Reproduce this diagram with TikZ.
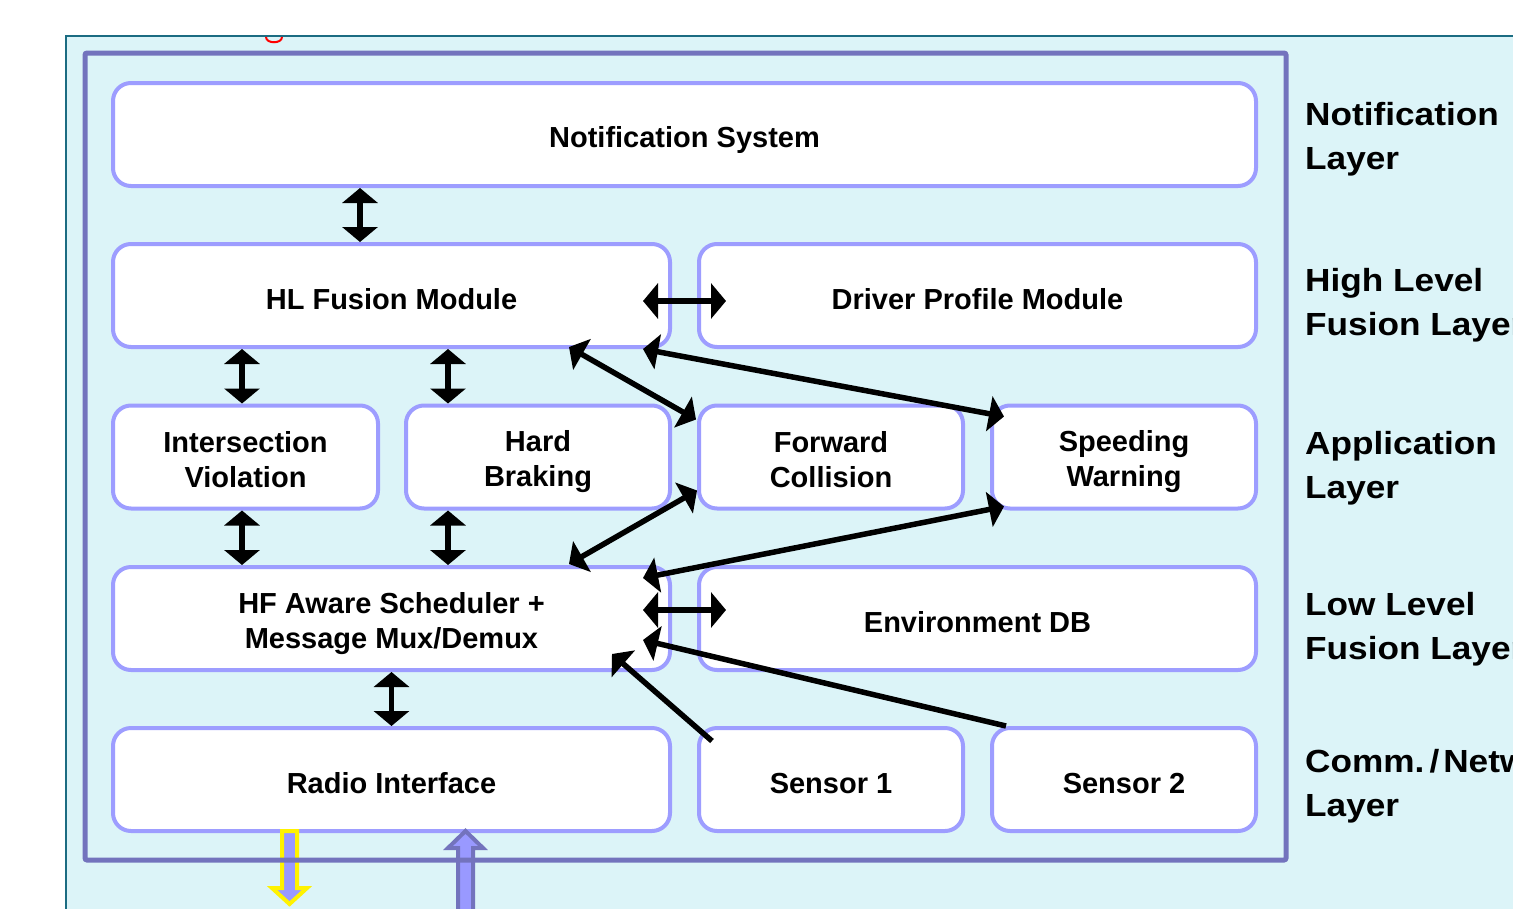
\documentclass[tikz,border=0pt]{standalone}
\usepackage{fontspec}
\setmainfont{Liberation Sans}
\newfontfamily\labfont[FakeStretch=1.1]{Liberation Sans}
\usetikzlibrary{arrows.meta,calc}
\definecolor{bgc}{HTML}{DCF4F8}
\definecolor{tealc}{HTML}{1B6C82}
\definecolor{innerc}{HTML}{7373BD}
\definecolor{boxc}{HTML}{9D9DFF}
\definecolor{arrc}{HTML}{9999FF}
\begin{document}
\begin{tikzpicture}[x=1pt,y=-1pt,
  box/.style={draw=boxc, line width=4pt, fill=white, rounded corners=18pt, inner sep=0pt, align=center,
    font=\bfseries\fontsize{29}{35}\selectfont, minimum height=103pt,
    execute at begin node={\rule{0pt}{33pt}},
    execute at end node={\rule[-6pt]{0pt}{0pt}}},
  two/.style={execute at begin node={\rule{0pt}{66pt}}},
  wide/.style={minimum width=557pt},
  narrow/.style={minimum width=264pt},
  dbl/.style={line width=5.5pt, {Triangle[length=15pt,width=35pt]}-{Triangle[length=15pt,width=35pt]}},
  sgl/.style={line width=5.5pt, -{Triangle[length=15pt,width=35pt]}},
  lab/.style={anchor=base west, align=left, inner sep=0pt,
    font=\labfont\bfseries\fontsize{32}{44}\selectfont}]
\useasboundingbox (0,0) rectangle (1513,908);
\clip (0,0) rectangle (1513,908);
\fill[white] (0,0) rectangle (1513,908);
% outer frame
\draw[tealc, line width=2.5pt, fill=bgc] (66,36) rectangle (1540,940);
% red fragment
\draw[red, line width=2pt] (266,37) .. controls (266,44) and (282,44) .. (282,37);
% boxes
\node[box, minimum width=1143pt] (notif) at (684.5,134.5) {Notification System};
\node[box, wide] (hl) at (391.5,295.5) {HL Fusion Module};
\node[box, wide] (drv) at (977.5,295.5) {Driver Profile Module};
\node[box, two, narrow, minimum width=265pt] (inter) at (245.5,457) {Intersection\\Violation};
\node[box, two, narrow] (hard) at (538,457) {Hard\\Braking};
\node[box, two, narrow] (fwd) at (831,457) {Forward\\Collision};
\node[box, two, narrow] (speed) at (1124,457) {Speeding\\Warning};
\node[box, two, wide] (hf) at (391.5,618.5) {HF Aware Scheduler +\\Message Mux/Demux};
\node[box, wide] (env) at (977.5,618.5) {Environment DB};
\node[box, wide] (radio) at (391.5,779.5) {Radio Interface};
\node[box, narrow] (s1) at (831,779.5) {Sensor 1};
\node[box, narrow] (s2) at (1124,779.5) {Sensor 2};
% connectors
\draw[dbl] ([shift={(249,0)}]notif.south west) -- ([shift={(249,0)}]hl.north west);
\draw[dbl] ([shift={(131,0)}]hl.south west) -- ([shift={(131,0)}]inter.north west);
\draw[dbl] ([shift={(337,0)}]hl.south west) -- ([shift={(44,0)}]hard.north west);
\draw[dbl] ([shift={(131,0)}]inter.south west) -- ([shift={(131,0)}]hf.north west);
\draw[dbl] ([shift={(44,0)}]hard.south west) -- ([shift={(337,0)}]hf.north west);
\draw[dbl] (hf.south) -- (radio.north);
\draw[dbl] ([shift={(-29,5.5)}]hl.east) -- ([shift={(29,5.5)}]drv.west);
\draw[dbl] ([shift={(-103,-2)}]hl.south east) -- ([shift={(-1,16)}]fwd.north west);
\draw[dbl] ([shift={(-29,0)}]hl.south east) -- ([shift={(14,13)}]speed.north west);
\draw[dbl] ([shift={(0,-20)}]fwd.south west) -- ([shift={(-103,-1)}]hf.north east);
\draw[dbl] ([shift={(14,-4)}]speed.south west) -- ([shift={(-29,13)}]hf.north east);
\draw[dbl] ([shift={(-29,-8.5)}]hf.east) -- ([shift={(29,-8.5)}]env.west);
\draw[sgl] ([shift={(16,0)}]s2.north west) -- ([shift={(-29,21.5)}]hf.east);
\draw[sgl] ([shift={(15,15)}]s1.north west) -- ([shift={(-60,-18)}]hf.south east);
% radio in/out arrows
\draw[yellow, line width=4pt, fill=arrc, line join=miter]
  (282,831) -- (297,831) -- (297,888) -- (307,888) -- (289.5,904) -- (272,888) -- (282,888) -- cycle;
\draw[innerc, line width=4pt, fill=arrc, line join=miter]
  (465.5,831) -- (483,848) -- (473,848) -- (473,915) -- (458,915) -- (458,848) -- (448,848) -- cycle;
% inner frame
\draw[innerc, line width=5pt, rounded corners=2pt] (85,53) rectangle (1286,860);
% layer labels
\node[lab] (l1) at (1305,169) {Notification\\Layer};
\node[lab] (l2) at (1305,335) {High Level\\Fusion Layer};
\node[lab] (l3) at (1305,498) {Application\\Layer};
\node[lab] (l4) at (1305,659) {Low Level\\Fusion Layer};
\node[lab] (l5) at (1305,816) {Comm.\hspace{5pt}/\hspace{4pt}Network\\Layer};
\end{tikzpicture}
\end{document}
